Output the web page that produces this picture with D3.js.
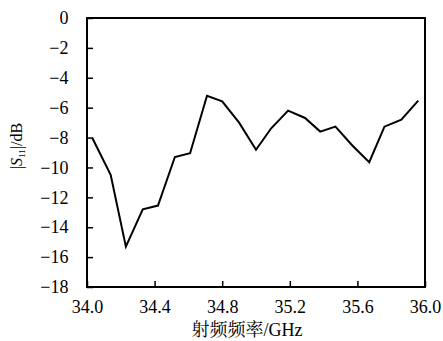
<!DOCTYPE html>
<html><head><meta charset="utf-8">
<script src="https://cdn.jsdelivr.net/npm/d3@7/dist/d3.min.js"></script>
<style>
body{margin:0;background:#fff;}
</style></head>
<body><svg id="c" width="443" height="341"></svg>
<script>
const freq = [34.03,34.14,34.23,34.33,34.42,34.52,34.61,34.71,34.80,34.90,35.00,35.09,35.19,35.29,35.38,35.47,35.57,35.67,35.76,35.86,35.96];
const s11  = [-8.0,-10.5,-15.3,-12.8,-12.55,-9.3,-9.05,-5.2,-5.58,-7.0,-8.82,-7.38,-6.2,-6.69,-7.6,-7.27,-8.53,-9.65,-7.27,-6.8,-5.53];
const xTicks = [34.0,34.4,34.8,35.2,35.6,36.0];
const yTicks = [0,-2,-4,-6,-8,-10,-12,-14,-16,-18];

const FONT='"Liberation Serif","Times New Roman",serif';
const L=87,R=425,T=18,B=287;
const svg=d3.select("#c");
const x=d3.scaleLinear().domain([34,36]).range([L,R]);
const y=d3.scaleLinear().domain([-18,0]).range([B,T]);

const fmtY=d=>d<0?"\u2212"+Math.abs(d):String(d);

const ax=svg.append("g").attr("transform",`translate(0,${B})`)
  .call(d3.axisBottom(x).tickValues(xTicks).tickFormat(d3.format(".1f")).tickSizeInner(-6).tickSizeOuter(0).tickPadding(13));
ax.attr("font-family",FONT).attr("font-size",18);
ax.select(".domain").remove();
ax.selectAll("line").attr("stroke","#000").attr("stroke-width",1.5);
ax.selectAll("text").attr("fill","#000").style("font-family",FONT).style("font-size","18px");

const ay=svg.append("g").attr("transform",`translate(${L},0)`)
  .call(d3.axisLeft(y).tickValues(yTicks).tickFormat(fmtY).tickSizeInner(-6).tickSizeOuter(0).tickPadding(18.5));
ay.attr("font-family",FONT).attr("font-size",18);
ay.select(".domain").remove();
ay.selectAll("line").attr("stroke","#000").attr("stroke-width",1.5);
ay.selectAll("text").attr("fill","#000").style("font-family",FONT).style("font-size","18px");

svg.append("rect").attr("x",L).attr("y",T).attr("width",R-L).attr("height",B-T)
  .attr("fill","none").attr("stroke","#000").attr("stroke-width",2);

svg.append("path").datum(freq.map((f,i)=>[f,s11[i]]))
  .attr("fill","none").attr("stroke","#000").attr("stroke-width",2).attr("stroke-linejoin","miter")
  .attr("d",d3.line().x(d=>x(d[0])).y(d=>y(d[1])));

svg.append("text").attr("x",247).attr("y",335.5).attr("text-anchor","middle")
  .style("font-family",'"Liberation Serif","Noto Serif CJK SC","Noto Sans CJK SC",serif').style("font-size","18px")
  .text("射频频率/GHz");

const yt=svg.append("text").attr("transform","translate(22,146) rotate(-90)").attr("text-anchor","middle")
  .style("font-family",FONT).style("font-size","16px");
yt.append("tspan").text("|");
yt.append("tspan").style("font-style","italic").text("S");
yt.append("tspan").attr("dy",3).style("font-size","9px").text("11");
yt.append("tspan").attr("dy",-3).text("|/dB");
</script></body></html>
